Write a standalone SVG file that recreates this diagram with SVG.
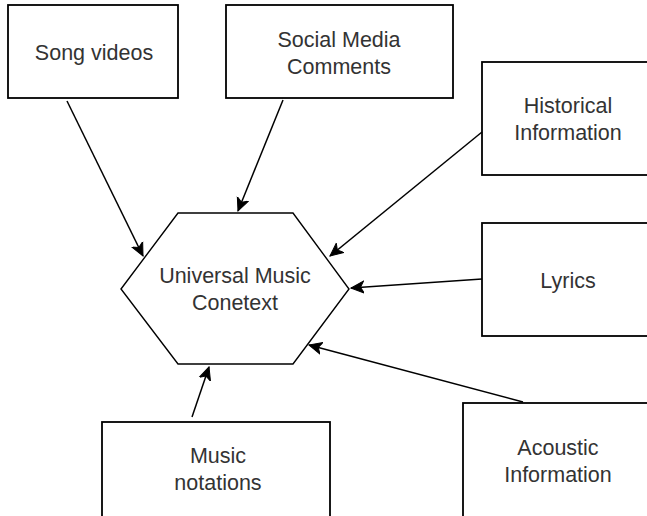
<svg xmlns="http://www.w3.org/2000/svg" width="647" height="516" viewBox="0 0 647 516">
<style>
.box{fill:#fff;stroke:#000;stroke-width:1.8}
.hex{fill:#fff;stroke:#000;stroke-width:1.4}
.t{font-family:"Liberation Sans",Arial,sans-serif;font-size:21.5px;fill:#333;text-anchor:middle}
.c{fill:none;stroke:#000;stroke-width:1.5}
</style>
<defs>
<marker id="ah" markerUnits="userSpaceOnUse" viewBox="0 0 14 14" markerWidth="14" markerHeight="14" refX="13" refY="7" orient="auto">
<path d="M0,1 L13,7 L0,13 L3.5,7 z" fill="#000" stroke="#000" stroke-width="1"/>
</marker>
</defs>
<rect width="647" height="516" fill="#fff"/>
<g id="song-videos"><rect class="box" x="8" y="5" width="170" height="93"/><text class="t" x="94" y="60">Song videos</text></g>
<g id="social-media"><rect class="box" x="226" y="5" width="227" height="93"/><text class="t" x="339" y="47">Social Media</text><text class="t" x="339" y="74">Comments</text></g>
<g id="historical"><rect class="box" x="482" y="62" width="172" height="113"/><text class="t" x="568" y="113">Historical</text><text class="t" x="568" y="140">Information</text></g>
<g id="lyrics"><rect class="box" x="482" y="223" width="172" height="113"/><text class="t" x="568" y="288">Lyrics</text></g>
<g id="acoustic"><rect class="box" x="463" y="403" width="190" height="131"/><text class="t" x="558" y="455">Acoustic</text><text class="t" x="558" y="482">Information</text></g>
<g id="music-notations"><rect class="box" x="102" y="422" width="228" height="110"/><text class="t" x="218" y="463">Music</text><text class="t" x="218" y="490">notations</text></g>
<g id="universal"><polygon class="hex" points="121,289 178,213 293,213 349,289 293,364 178,364"/><text class="t" x="235" y="283">Universal Music</text><text class="t" x="235" y="310">Conetext</text></g>
<g id="connectors">
<line class="c" x1="67" y1="101" x2="143" y2="256" marker-end="url(#ah)"/>
<line class="c" x1="283" y1="100" x2="238" y2="211" marker-end="url(#ah)"/>
<line class="c" x1="482" y1="132" x2="330" y2="256" marker-end="url(#ah)"/>
<line class="c" x1="482" y1="279" x2="351" y2="288" marker-end="url(#ah)"/>
<line class="c" x1="523" y1="402" x2="309" y2="345" marker-end="url(#ah)"/>
<line class="c" x1="192" y1="417" x2="209" y2="367" marker-end="url(#ah)"/>
</g>
</svg>
